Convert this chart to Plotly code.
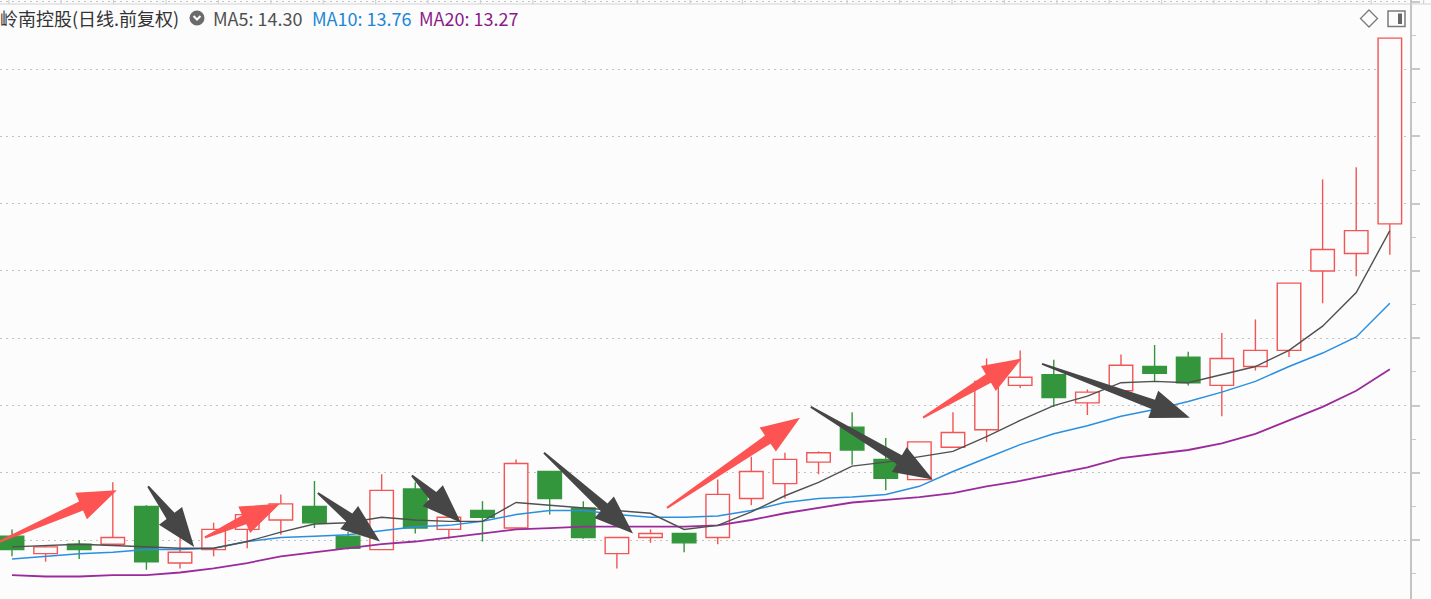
import math
import plotly.graph_objects as go

# ---------------- data ----------------
opens = [12.03, 11.90, 11.97, 11.97, 12.25, 11.83, 11.93, 12.08, 12.15, 12.25,
         12.03, 11.93, 12.38, 12.08, 12.22, 12.09, 12.51, 12.24, 11.90, 12.02,
         12.05, 12.02, 12.31, 12.42, 12.58, 12.84, 12.60, 12.45, 12.69, 12.82,
         13.15, 13.23, 13.02, 13.11, 13.29, 13.36, 13.15, 13.29, 13.41, 14.00,
         14.13, 14.35]
closes = [11.93, 11.95, 11.93, 12.02, 11.84, 11.91, 12.08, 12.19, 12.27, 12.13,
          11.94, 12.37, 12.09, 12.17, 12.17, 12.57, 12.31, 12.02, 12.02, 12.05,
          11.98, 12.34, 12.51, 12.60, 12.65, 12.67, 12.46, 12.73, 12.80, 13.18,
          13.21, 13.06, 13.10, 13.30, 13.24, 13.17, 13.35, 13.41, 13.91, 14.16,
          14.30, 15.73]
highs = [12.08, 11.96, 12.00, 12.43, 12.26, 12.02, 12.13, 12.21, 12.34, 12.44,
         12.06, 12.49, 12.43, 12.17, 12.29, 12.60, 12.51, 12.29, 12.02, 12.08,
         12.05, 12.45, 12.62, 12.65, 12.66, 12.95, 12.76, 12.73, 12.95, 13.35,
         13.41, 13.34, 13.12, 13.38, 13.45, 13.40, 13.54, 13.64, 13.91, 14.68,
         14.77, 15.73]
lows = [11.88, 11.84, 11.86, 11.96, 11.78, 11.79, 11.88, 11.94, 12.04, 12.09,
        11.93, 11.93, 12.05, 12.01, 11.99, 12.09, 12.19, 12.01, 11.79, 11.98,
        11.91, 11.97, 12.26, 12.31, 12.49, 12.56, 12.37, 12.45, 12.69, 12.73,
        13.13, 12.99, 12.93, 13.11, 13.18, 13.15, 12.92, 13.26, 13.36, 13.76,
        13.96, 14.12]
ma5 = [11.95, 11.96, 11.97, 11.96, 11.95, 11.94, 11.94, 11.99, 12.06, 12.12,
       12.13, 12.17, 12.15, 12.14, 12.14, 12.28, 12.26, 12.24, 12.22, 12.20,
       12.08, 12.11, 12.21, 12.33, 12.43, 12.55, 12.58, 12.62, 12.66, 12.77,
       12.89, 13.00, 13.07, 13.17, 13.18, 13.17, 13.23, 13.29, 13.41, 13.59,
       13.84, 14.30]
ma10 = [11.86, 11.88, 11.90, 11.91, 11.93, 11.93, 11.94, 11.99, 12.02, 12.03,
        12.04, 12.07, 12.10, 12.11, 12.14, 12.19, 12.22, 12.22, 12.19, 12.17,
        12.17, 12.18, 12.22, 12.28, 12.31, 12.32, 12.34, 12.40, 12.51, 12.61,
        12.71, 12.79, 12.85, 12.92, 12.97, 13.03, 13.10, 13.18, 13.29, 13.39,
        13.51, 13.76]
ma20 = [11.74, 11.73, 11.73, 11.74, 11.74, 11.76, 11.79, 11.83, 11.88, 11.91,
        11.94, 11.97, 11.99, 12.02, 12.05, 12.08, 12.09, 12.10, 12.10, 12.10,
        12.10, 12.11, 12.15, 12.20, 12.24, 12.28, 12.30, 12.32, 12.35, 12.40,
        12.44, 12.49, 12.54, 12.61, 12.64, 12.67, 12.72, 12.79, 12.89, 12.99,
        13.11, 13.27]

title_text = "岭南控股(日线.前复权)"
ma_labels = ["MA5: 14.30", "MA10: 13.76", "MA20: 13.27"]

# arrows: tail -> tip, in (candle index, price)
arrow_tails_x = [-0.36, 4.05, 5.74, 9.10, 11.90, 15.83, 19.49, 23.77, 27.11, 30.65]
arrow_tails_y = [11.99, 12.40, 12.02, 12.35, 12.48, 12.65, 12.24, 12.99, 12.91, 13.31]
arrow_tips_x = [3.12, 5.42, 7.97, 10.95, 13.36, 18.48, 23.45, 27.40, 30.05, 35.05]
arrow_tips_y = [12.37, 11.95, 12.27, 11.99, 12.13, 12.05, 12.91, 12.45, 13.35, 12.91]
arrow_kinds = ["up", "down", "up", "down", "down", "down", "up", "down", "up", "down"]

# ---------------- style ----------------
W, H = 1431, 599
PLOT_RIGHT = 1410
BG = "#fcfcfc"
RED = "#f25555"
GREEN = "#34963c"
C_MA5 = "#505050"
C_MA10 = "#2a8fe0"
C_MA20 = "#9b2a9b"
ARROW_UP = "#fd5353"
ARROW_DN = "#464646"

X_RANGE = [-0.357, 41.6]
Y_RANGE = [11.563, 16.013]

n = len(opens)
xs = list(range(n))

fig = go.Figure()

# candle bodies and wicks
up_x, up_base, up_h = [], [], []
dn_x, dn_base, dn_h = [], [], []
wu_x, wu_y, wd_x, wd_y = [], [], [], []
for i in xs:
    o, c, hi, lo = opens[i], closes[i], highs[i], lows[i]
    top, bot = max(o, c), min(o, c)
    if c >= o:
        up_x.append(i); up_base.append(bot); up_h.append(top - bot)
        wx, wy = wu_x, wu_y
    else:
        dn_x.append(i); dn_base.append(bot); dn_h.append(top - bot)
        wx, wy = wd_x, wd_y
    if hi > top:
        wx += [i, i, None]; wy += [hi, top, None]
    if lo < bot:
        wx += [i, i, None]; wy += [bot, lo, None]

fig.add_trace(go.Bar(x=up_x, y=up_h, base=up_base, width=0.70,
                     marker=dict(color=BG, line=dict(color=RED, width=1.4)),
                     hoverinfo="skip", showlegend=False))
fig.add_trace(go.Bar(x=dn_x, y=dn_h, base=dn_base, width=0.70,
                     marker=dict(color=GREEN, line=dict(color=GREEN, width=1.4)),
                     hoverinfo="skip", showlegend=False))
fig.add_trace(go.Scatter(x=wu_x, y=wu_y, mode="lines",
                         line=dict(color=RED, width=1.4),
                         hoverinfo="skip", showlegend=False))
fig.add_trace(go.Scatter(x=wd_x, y=wd_y, mode="lines",
                         line=dict(color=GREEN, width=1.4),
                         hoverinfo="skip", showlegend=False))

# moving averages
fig.add_trace(go.Scatter(x=xs, y=ma20, mode="lines", line=dict(color=C_MA20, width=1.8),
                         hoverinfo="skip", showlegend=False))
fig.add_trace(go.Scatter(x=xs, y=ma10, mode="lines", line=dict(color=C_MA10, width=1.5),
                         hoverinfo="skip", showlegend=False))
fig.add_trace(go.Scatter(x=xs, y=ma5, mode="lines", line=dict(color=C_MA5, width=1.4),
                         hoverinfo="skip", showlegend=False))

# ---------------- arrows (tapered polygons) ----------------
sx = PLOT_RIGHT / (X_RANGE[1] - X_RANGE[0])
sy = H / (Y_RANGE[1] - Y_RANGE[0])


def to_px(x, y):
    return ((x - X_RANGE[0]) * sx, (y - Y_RANGE[0]) * sy)


def to_data(px, py):
    return (px / sx + X_RANGE[0], py / sy + Y_RANGE[0])


def arrow_path(tx, ty, hx, hy, head_len=39, head_half=14.5, shaft_half=5.0, tail_half=1.0):
    TX, TY = to_px(tx, ty)
    PX, PY = to_px(hx, hy)
    dx, dy = PX - TX, PY - TY
    L = math.hypot(dx, dy)
    ux, uy = dx / L, dy / L
    nx, ny = -uy, ux
    BX, BY = PX - ux * head_len, PY - uy * head_len
    pts = [
        (TX + nx * tail_half, TY + ny * tail_half),
        (BX + nx * shaft_half, BY + ny * shaft_half),
        (BX + nx * head_half, BY + ny * head_half),
        (PX, PY),
        (BX - nx * head_half, BY - ny * head_half),
        (BX - nx * shaft_half, BY - ny * shaft_half),
        (TX - nx * tail_half, TY - ny * tail_half),
    ]
    d = []
    for k, (a, b) in enumerate(pts):
        X, Y = to_data(a, b)
        d.append(("M" if k == 0 else "L") + f"{X:.4f},{Y:.4f}")
    return " ".join(d) + " Z"


shapes = []
for tx, ty, hx, hy, kind in zip(arrow_tails_x, arrow_tails_y, arrow_tips_x, arrow_tips_y, arrow_kinds):
    col = ARROW_UP if kind == "up" else ARROW_DN
    shapes.append(dict(type="path", xref="x", yref="y", path=arrow_path(tx, ty, hx, hy),
                       fillcolor=col, line=dict(width=0), layer="above"))


def pxp(x):
    return x / W


def pyp(y):
    return 1 - y / H


# top border line and ticks
shapes.append(dict(type="line", xref="paper", yref="paper", x0=0, x1=1,
                   y0=pyp(4), y1=pyp(4), line=dict(color="#d2d2d2", width=1.2)))
tx0 = 952.0
while tx0 - 52.4 > 0:
    tx0 -= 52.4
t = tx0
while t < W:
    shapes.append(dict(type="line", xref="paper", yref="paper", x0=pxp(t), x1=pxp(t),
                       y0=pyp(0), y1=pyp(4), line=dict(color="#d2d2d2", width=1.2)))
    t += 52.4

# header icons
shapes.append(dict(type="circle", xref="paper", yref="paper",
                   x0=pxp(189.5), x1=pxp(204.5), y0=pyp(25.5), y1=pyp(10.5),
                   fillcolor="#6b6b6b", line=dict(width=0)))
shapes.append(dict(type="path", xref="paper", yref="paper",
                   path=f"M{pxp(193.5)},{pyp(16)} L{pxp(197)},{pyp(19.5)} L{pxp(200.5)},{pyp(16)}",
                   line=dict(color="white", width=2)))
shapes.append(dict(type="path", xref="paper", yref="paper",
                   path=(f"M{pxp(1369)},{pyp(10)} L{pxp(1377.5)},{pyp(18.5)} "
                         f"L{pxp(1369)},{pyp(27)} L{pxp(1360.5)},{pyp(18.5)} Z"),
                   line=dict(color="#7a7a7a", width=1.3)))
shapes.append(dict(type="rect", xref="paper", yref="paper",
                   x0=pxp(1388), x1=pxp(1405), y0=pyp(26.5), y1=pyp(11),
                   line=dict(color="#7a7a7a", width=1.5), fillcolor="rgba(0,0,0,0)"))
shapes.append(dict(type="rect", xref="paper", yref="paper",
                   x0=pxp(1398), x1=pxp(1402), y0=pyp(24), y1=pyp(13.5),
                   line=dict(width=0), fillcolor="#666666"))

# header text
annotations = [
    dict(text=title_text, x=pxp(-2), y=pyp(18), xref="paper", yref="paper",
         xanchor="left", yanchor="middle", showarrow=False,
         font=dict(family="Noto Sans CJK SC", size=18, color="#333333")),
]
ma_x = [211, 310, 417]
ma_c = [C_MA5, "#1c86d6", "#8a1a8a"]
for lbl, xx, cc in zip(ma_labels, ma_x, ma_c):
    annotations.append(dict(text=lbl, x=pxp(xx), y=pyp(18), xref="paper", yref="paper",
                            xanchor="left", yanchor="middle", showarrow=False,
                            font=dict(family="Noto Sans CJK SC", size=18, color=cc)))

fig.update_layout(
    width=W, height=H,
    margin=dict(l=0, r=0, t=0, b=0, pad=0, autoexpand=False),
    paper_bgcolor=BG, plot_bgcolor=BG,
    barmode="overlay",
    showlegend=False,
    hovermode=False,
    shapes=shapes,
    annotations=annotations,
    xaxis=dict(range=X_RANGE, domain=[0, PLOT_RIGHT / W], visible=False, fixedrange=True),
    yaxis=dict(range=Y_RANGE, side="right", showline=True, linecolor="#c4c4c4", linewidth=2,
               ticks="outside", ticklen=8, tickwidth=2, tickcolor="#c8c8c8",
               tick0=0, dtick=0.5, showticklabels=False, automargin=False,
               showgrid=True, gridcolor="#c2c2c2", gridwidth=1, griddash="2px,4px",
               zeroline=False, fixedrange=True,
               minor=dict(ticks="outside", ticklen=4, tickwidth=1, tickcolor="#c8c8c8",
                          dtick=0.25, tick0=0, showgrid=False)),
)

fig.write_html("out.html", config={"displayModeBar": False},
               post_script="document.body.style.margin='0px';"
                           "document.body.style.background='#fcfcfc';")
